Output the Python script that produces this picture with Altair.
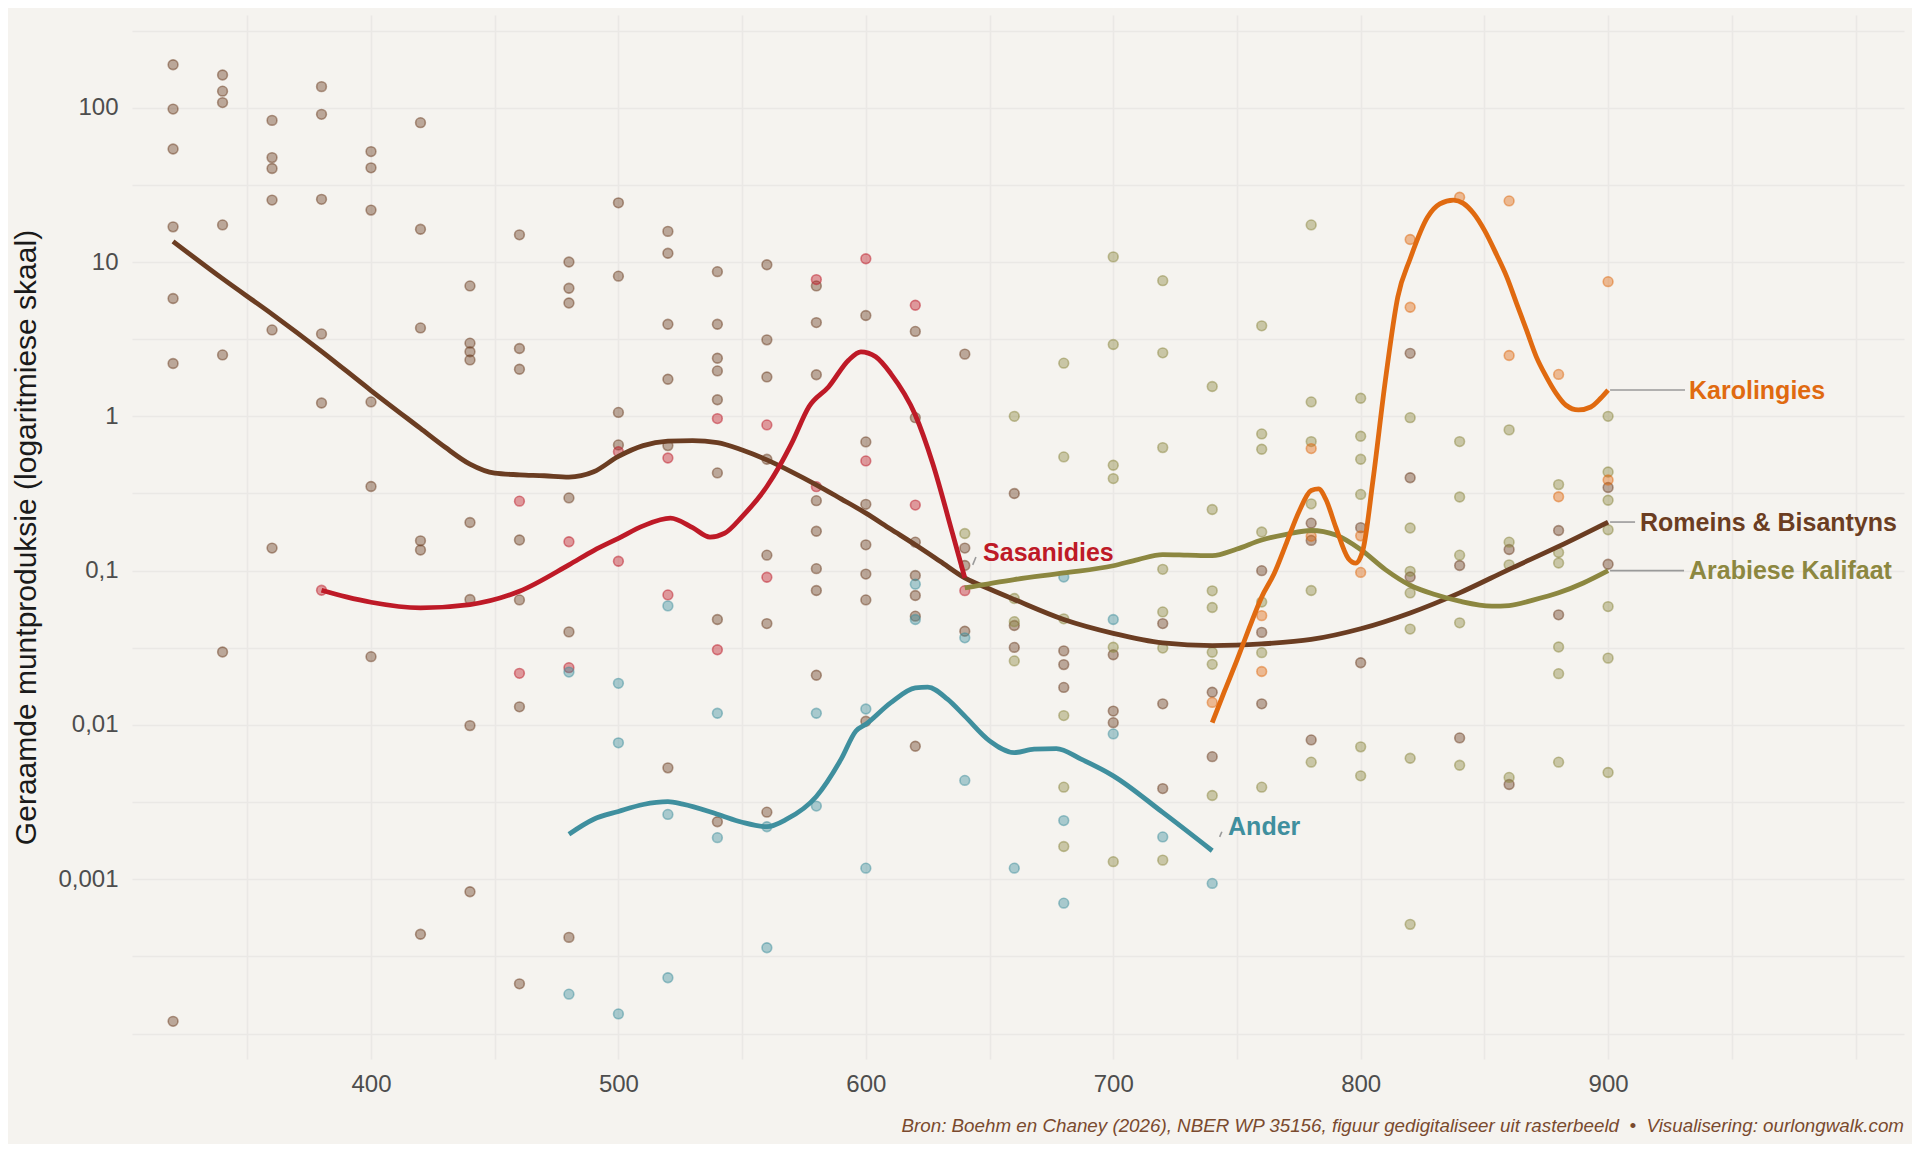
import altair as alt
import pandas as pd

# ---------------- data ----------------
GROUPS = ["Romeins & Bisantyns", "Sasanidies", "Arabiese Kalifaat", "Karolingies", "Ander"]
COLORS = ["#6B3D22", "#BE1A27", "#8C8740", "#E06A10", "#3F8F9E"]

# scatter points: year -> estimated coin production values
rb_pts = {
    320: [190, 98, 54, 16.9, 5.8, 2.2, 0.00012],
    340: [163, 128, 108, 17.4, 2.5, 0.0297],
    360: [82.8, 47.5, 40.4, 25.2, 3.63, 0.14],
    380: [137, 90.6, 25.5, 3.42, 1.22],
    400: [52, 40.8, 21.7, 1.24, 0.351, 0.0277],
    420: [80, 16.3, 3.74, 0.156, 0.136, 0.00044],
    440: [7.0, 2.98, 2.62, 2.32, 0.205, 0.065, 0.0099, 0.00083],
    460: [15.0, 2.75, 2.02, 0.158, 0.0646, 0.0131, 0.00021],
    480: [10.0, 6.76, 5.43, 0.296, 0.0401, 0.00042],
    500: [24.2, 8.1, 1.06, 0.653],
    520: [15.8, 11.4, 3.95, 1.74, 0.646, 0.00527],
    540: [8.66, 3.95, 2.38, 1.97, 1.28, 0.43, 0.0482, 0.00236],
    560: [9.6, 3.13, 1.8, 0.527, 0.126, 0.0454, 0.00272],
    580: [7.0, 4.05, 1.86, 0.284, 0.18, 0.103, 0.0743, 0.021],
    600: [4.5, 0.683, 0.269, 0.147, 0.095, 0.0646, 0.01056],
    620: [3.55, 0.98, 0.153, 0.093, 0.069, 0.0507, 0.00728],
    640: [2.53, 0.14, 0.108, 0.0405],
    660: [0.316, 0.0441, 0.0318],
    680: [0.0302, 0.0246, 0.0175],
    700: [0.0285, 0.0123, 0.01035],
    720: [0.0454, 0.0137, 0.00387],
    740: [0.0163, 0.00623],
    760: [0.1, 0.0398, 0.0137],
    780: [0.203, 0.157, 0.008],
    800: [0.19, 0.0253],
    820: [2.56, 0.40, 0.091],
    840: [0.108, 0.00824],
    860: [0.137, 0.00411],
    880: [0.182, 0.0517],
    900: [0.346, 0.110],
}
sa_pts = {
    380: [0.0746], 460: [0.282, 0.0216], 480: [0.154, 0.0235], 500: [0.59, 0.115],
    520: [0.537, 0.0696], 540: [0.967, 0.0307], 560: [0.88, 0.0906], 580: [7.7, 0.35],
    600: [10.5, 0.514], 620: [5.25, 0.266], 640: [0.0742],
}
ak_pts = {
    640: [0.174],
    660: [1.0, 0.066, 0.0467, 0.026],
    680: [2.21, 0.546, 0.0487, 0.0115, 0.00395, 0.00163],
    700: [10.8, 2.92, 0.482, 0.395, 0.0319, 0.0013],
    720: [7.57, 2.58, 0.627, 0.102, 0.054, 0.0315, 0.00133],
    740: [1.56, 0.249, 0.074, 0.0577, 0.0296, 0.0247, 0.00349],
    760: [3.86, 0.769, 0.612, 0.178, 0.0626, 0.0294, 0.00395],
    780: [17.4, 1.24, 0.686, 0.271, 0.0743, 0.00574],
    800: [1.31, 0.743, 0.527, 0.312, 0.00721, 0.00468],
    820: [0.98, 0.189, 0.099, 0.0717, 0.0418, 0.00608, 0.00051],
    840: [0.686, 0.3, 0.126, 0.0459, 0.00548],
    860: [0.817, 0.153, 0.109, 0.00457],
    880: [0.361, 0.131, 0.112, 0.032, 0.0215, 0.00574],
    900: [1.0, 0.436, 0.286, 0.184, 0.0585, 0.0271, 0.00492],
}
ka_pts = {
    740: [0.014], 760: [0.0511, 0.0222], 780: [0.618, 0.167], 800: [0.168, 0.0974],
    820: [14.0, 5.09], 840: [26.3], 860: [24.9, 2.48], 880: [1.87, 0.301], 900: [7.46, 0.387],
}
an_pts = {
    480: [0.022, 0.00018], 500: [0.0186, 0.00766, 0.000134], 520: [0.0591, 0.00263, 0.00023],
    540: [0.0119, 0.00186], 560: [0.00219, 0.00036], 580: [0.0119, 0.00298],
    600: [0.01268, 0.00118], 620: [0.0817, 0.0482], 640: [0.0367, 0.00437],
    660: [0.00118], 680: [0.091, 0.0024, 0.0007], 700: [0.0482, 0.00875],
    720: [0.00188], 740: [0.00094],
}

# smoothed trend lines
rb_line_x = [320, 340, 360, 380, 400, 420, 430, 440, 450, 460, 470, 480, 490, 500, 510, 520, 530,
             540, 550, 560, 570, 580, 590, 600, 610, 620, 630, 640, 650, 660, 680, 700, 720, 740,
             760, 780, 800, 820, 840, 860, 880, 900]
rb_line_y = [13.6, 7.8, 4.6, 2.64, 1.47, 0.835, 0.63, 0.49, 0.428, 0.418, 0.412, 0.404, 0.437,
             0.55, 0.646, 0.69, 0.697, 0.676, 0.605, 0.522, 0.437, 0.36, 0.292, 0.236, 0.186,
             0.147, 0.115, 0.0897, 0.076, 0.065, 0.0482, 0.0392, 0.034, 0.0327, 0.0335, 0.0358,
             0.042, 0.0532, 0.0718, 0.102, 0.1435, 0.2065]
sa_line_x = [380, 390, 400, 420, 440, 460, 480, 490, 500, 510, 521, 530, 537, 543, 550, 560, 565,
             570, 577, 585, 593, 598, 604, 610, 620, 627, 635, 640]
sa_line_y = [0.0746, 0.0676, 0.0624, 0.0574, 0.0603, 0.0735, 0.109, 0.135, 0.162, 0.195, 0.219,
             0.19, 0.165, 0.175, 0.224, 0.351, 0.473, 0.668, 1.155, 1.556, 2.31, 2.62, 2.43, 1.9,
             1.02, 0.497, 0.175, 0.0897]
ak_line_x = [640, 660, 680, 700, 710, 720, 730, 740, 750, 760, 770, 780, 790, 800, 810, 820, 830,
             840, 853, 860, 870, 880, 890, 900]
ak_line_y = [0.0773, 0.0875, 0.0966, 0.1076, 0.118, 0.127, 0.126, 0.125, 0.138, 0.158, 0.172,
             0.182, 0.17, 0.137, 0.1016, 0.0804, 0.07, 0.0634, 0.0589, 0.0594, 0.0646, 0.0718,
             0.0832, 0.1]
ka_line_x = [740, 745, 750, 755, 760, 765, 770, 775, 780, 783, 786, 790, 795, 798, 801, 805, 810,
             815, 820, 827, 832, 837.5, 841.5, 845.6, 850, 855, 859, 863, 867, 871, 875, 879,
             883, 888, 893, 897, 900]
ka_line_y = [0.01035, 0.0166, 0.0263, 0.0427, 0.0676, 0.0955, 0.151, 0.24, 0.331, 0.339, 0.288,
             0.19, 0.12, 0.112, 0.138, 0.389, 1.72, 5.94, 10.5, 19.5, 23.8, 25.2, 24.0, 20.7,
             16.1, 11.1, 8.04, 5.4, 3.63, 2.43, 1.81, 1.41, 1.18, 1.1, 1.15, 1.31, 1.48]
an_line_x = [480, 490, 500, 510, 520, 526, 540, 550, 560, 568, 580, 590, 596, 600, 610, 620, 625,
             633, 640, 650, 660, 668, 677, 687, 700, 720, 740]
an_line_y = [0.00196, 0.00245, 0.00275, 0.00305, 0.00318, 0.00307, 0.00264, 0.00234, 0.00219,
             0.00245, 0.00344, 0.006, 0.00914, 0.0101, 0.0139, 0.0174, 0.0176, 0.0147, 0.0114,
             0.00789, 0.00662, 0.00697, 0.00703, 0.006, 0.00468, 0.00271, 0.00153]

# direct labels
label_text = ["Karolingies", "Romeins & Bisantyns", "Arabiese Kalifaat", "Sasanidies", "Ander"]
label_group = ["Karolingies", "Romeins & Bisantyns", "Arabiese Kalifaat", "Sasanidies", "Ander"]
label_x = [932.7, 912.9, 932.7, 647.4, 746.4]
label_y = [1.466, 0.203, 0.1, 0.1306, 0.00219]
leader_x = [900.8, 900.8, 900.8, 643.2, 743.0]
leader_x2 = [931.1, 910.9, 930.7, 644.5, 743.9]
leader_y = [1.48, 0.2065, 0.1, 0.109, 0.00188]
leader_y2 = [1.48, 0.2065, 0.1, 0.1225, 0.00203]

# axis ticks
x_grid_vals = [350, 400, 450, 500, 550, 600, 650, 700, 750, 800, 850, 900, 950, 1000]
y_tick_vals = [0.001, 0.01, 0.1, 1, 10, 100]
y_tick_labels = ["0,001", "0,01", "0,1", "1", "10", "100"]
y_grid_vals = [10 ** (e / 2) for e in range(-8, 6)]

caption = ("Bron: Boehm en Chaney (2026), NBER WP 35156, figuur gedigitaliseer uit rasterbeeld"
           "\u00a0 \u2022 \u00a0Visualisering: ourlongwalk.com")

# ---------------- build tables ----------------
pt_sources = [rb_pts, sa_pts, ak_pts, ka_pts, an_pts]
rows = []
for g, src in zip(GROUPS, pt_sources):
    for yr, vals in src.items():
        for v in vals:
            rows.append({"x": yr, "y": v, "group": g})
points_df = pd.DataFrame(rows)

line_sources = [(rb_line_x, rb_line_y), (sa_line_x, sa_line_y), (ak_line_x, ak_line_y),
                (ka_line_x, ka_line_y), (an_line_x, an_line_y)]
line_dfs = []
for g, (lx, ly) in zip(GROUPS, line_sources):
    line_dfs.append(pd.DataFrame({"x": lx, "y": ly, "group": g}))

labels_df = pd.DataFrame({"x": label_x, "y": label_y, "text": label_text, "group": label_group})
leaders_df = pd.DataFrame({"x": leader_x, "x2": leader_x2, "y": leader_y, "y2": leader_y2})
caption_df = pd.DataFrame({"text": [caption]})

# ---------------- scales / axes ----------------
FONT = "Liberation Sans"
W, H = 1772, 1044

color_scale = alt.Scale(domain=GROUPS, range=COLORS)

y_label_expr = " : ".join(
    f"abs(datum.value / {v} - 1) < 1e-6 ? '{l}'" for v, l in zip(y_tick_vals, y_tick_labels)
) + " : ''"

x_axis = alt.Axis(
    values=x_grid_vals, format="d",
    labelExpr="datum.value >= 400 && datum.value <= 900 && datum.value % 100 == 0 ? datum.label : ''",
    grid=True, gridColor="#EAE8E5", gridWidth=1.6, ticks=False, domain=False,
    labelFont=FONT, labelFontSize=24, labelColor="#4D4D4D", labelPadding=13,
    title=None,
)
y_axis = alt.Axis(
    values=y_grid_vals, labelExpr=y_label_expr,
    grid=True, gridColor="#EAE8E5", gridWidth=1.6, ticks=False, domain=False,
    labelFont=FONT, labelFontSize=24, labelColor="#4D4D4D", labelPadding=14,
    title="Geraamde muntproduksie (logaritmiese skaal)",
    titleFont=FONT, titleFontSize=30, titleFontWeight="normal", titleColor="#1A1A1A",
    titlePadding=16,
)
x_scale = alt.Scale(domain=[303.4, 1019.6], nice=False, zero=False)
y_scale = alt.Scale(type="log", domain=[6.84e-5, 399], nice=False)

X = alt.X("x:Q", scale=x_scale, axis=x_axis)
Y = alt.Y("y:Q", scale=y_scale, axis=y_axis)

# ---------------- layers ----------------
points = alt.Chart(points_df).mark_circle(
    size=95, fillOpacity=0.42, strokeOpacity=0.5, strokeWidth=1.6
).encode(
    x=X, y=Y,
    fill=alt.Fill("group:N", scale=color_scale, legend=None),
    stroke=alt.Stroke("group:N", scale=color_scale, legend=None),
)

line_layers = []
for df in line_dfs:
    line_layers.append(
        alt.Chart(df).mark_line(strokeWidth=4.8, interpolate="monotone", strokeCap="butt").encode(
            x=X, y=Y,
            color=alt.Color("group:N", scale=color_scale, legend=None),
        )
    )

leaders = alt.Chart(leaders_df).mark_rule(color="#9A9A9A", strokeWidth=1.6).encode(
    x=X, x2="x2:Q", y=Y, y2="y2:Q"
)

labels = alt.Chart(labels_df).mark_text(
    align="left", baseline="middle", font=FONT, fontSize=25, fontWeight="bold"
).encode(
    x=X, y=Y, text="text:N",
    color=alt.Color("group:N", scale=color_scale, legend=None),
)

cap = alt.Chart(caption_df).mark_text(
    align="right", baseline="middle", font=FONT, fontSize=18.8, fontStyle="italic", color="#7A4A2E"
).encode(
    x=alt.value(W), y=alt.value(H + 67), text="text:N"
)

chart = alt.layer(points, *line_layers, leaders, labels, cap).properties(
    width=W, height=H,
    autosize=alt.AutoSizeParams(type="none"),
    padding={"left": 124, "top": 7, "right": 8, "bottom": 85},
).configure(background="#F5F3EF").configure_view(stroke=None)

chart.save("out.html", embed_options={"renderer": "svg", "actions": False})
